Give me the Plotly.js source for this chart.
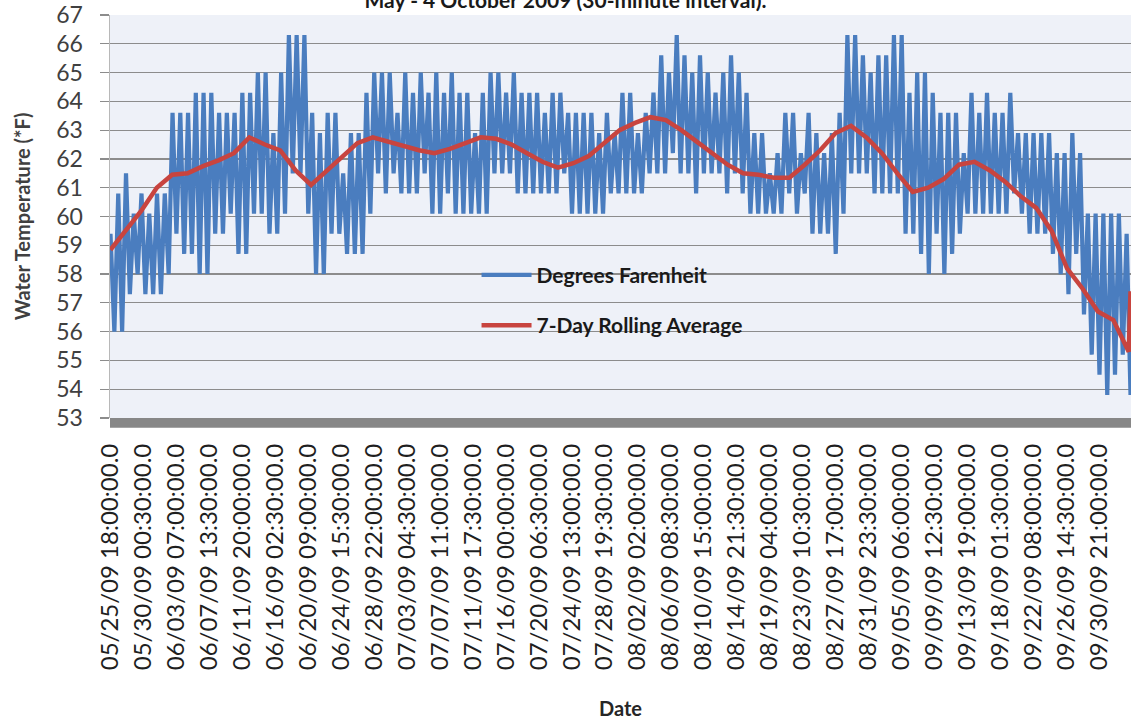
<!DOCTYPE html>
<html>
<head>
<meta charset="utf-8">
<script src="https://cdn.plot.ly/plotly-3.0.1.min.js"></script>
<style>
html,body{margin:0;padding:0;background:#fff;}
#chart{width:1131px;height:721px;}
</style>
</head>
<body>
<div id="chart"></div>
<script>
// ---- Data ----
// Half-hourly categories: 05/25/09 18:00 ... 10/04/09 23:30 (index 0 .. 6347)
const categoryCount = 6348;
const tickStep = 205;
const tickLabels = [
  "05/25/09 18:00:00.0","05/30/09 00:30:00.0","06/03/09 07:00:00.0","06/07/09 13:30:00.0",
  "06/11/09 20:00:00.0","06/16/09 02:30:00.0","06/20/09 09:00:00.0","06/24/09 15:30:00.0",
  "06/28/09 22:00:00.0","07/03/09 04:30:00.0","07/07/09 11:00:00.0","07/11/09 17:30:00.0",
  "07/16/09 00:00:00.0","07/20/09 06:30:00.0","07/24/09 13:00:00.0","07/28/09 19:30:00.0",
  "08/02/09 02:00:00.0","08/06/09 08:30:00.0","08/10/09 15:00:00.0","08/14/09 21:30:00.0",
  "08/19/09 04:00:00.0","08/23/09 10:30:00.0","08/27/09 17:00:00.0","08/31/09 23:30:00.0",
  "09/05/09 06:00:00.0","09/09/09 12:30:00.0","09/13/09 19:00:00.0","09/18/09 01:30:00.0",
  "09/22/09 08:00:00.0","09/26/09 14:30:00.0","09/30/09 21:00:00.0"
];

// Degrees Farenheit: first reading, then alternating daily lows / highs
const firstReading = 59.4;
const dailyLows = [
  56.0,56.0,57.3,58.0,57.3,57.3,57.3,58.0,59.4,58.7,58.7,58.0,58.0,59.4,59.4,60.1,58.7,58.7,60.1,60.1,
  59.4,59.4,60.1,61.5,61.5,60.1,58.0,58.0,59.4,59.4,58.7,58.7,58.7,
  60.1,61.5,60.8,61.5,60.8,60.8,60.8,61.5,60.1,60.1,60.8,60.1,60.1,60.1,60.1,60.1,61.5,61.5,61.5,60.8,
  60.8,60.8,60.8,60.8,60.8,61.5,60.1,60.1,60.1,60.1,60.1,60.8,60.8,
  60.8,60.8,60.8,61.5,61.5,61.5,62.2,61.5,61.5,60.8,61.5,61.5,61.5,60.8,61.5,60.8,60.1,60.1,60.1,60.1,
  60.1,60.8,60.1,60.8,59.4,59.4,59.4,58.7,60.1,61.5,61.5,61.5,60.8,
  60.8,60.8,60.8,59.4,59.4,58.7,58.0,59.4,58.0,58.7,59.4,60.1,60.1,60.1,60.1,60.1,60.1,60.8,60.1,59.4,
  59.4,59.4,58.7,58.0,57.3,58.7,56.6,55.2,54.5,53.8,54.5,55.2,53.8
];
const dailyHighs = [
  60.8,61.5,60.1,60.8,60.1,60.8,60.8,63.6,63.6,63.6,64.3,64.3,64.3,63.6,63.6,63.6,64.3,64.3,65.0,65.0,
  62.9,65.0,66.3,66.3,66.3,63.6,62.9,63.6,63.6,61.5,62.9,62.9,64.3,
  65.0,65.0,65.0,63.6,65.0,64.3,65.0,64.3,65.0,64.3,65.0,64.3,64.3,62.9,64.3,65.0,65.0,64.3,65.0,64.3,
  64.3,64.3,63.6,64.3,64.3,63.6,63.6,63.6,63.6,62.9,63.6,62.9,64.3,
  64.3,62.9,63.6,64.3,65.6,65.0,66.3,65.6,65.0,65.6,65.0,64.3,65.0,65.6,65.0,64.3,62.9,62.9,61.5,62.2,
  63.6,63.6,62.2,63.6,62.9,62.2,62.9,63.6,66.3,66.3,65.6,65.0,
  65.6,65.6,66.3,66.3,64.3,65.0,65.0,64.3,63.6,63.6,63.6,62.2,64.3,63.6,64.3,63.6,63.6,64.3,62.9,62.9,
  62.9,62.9,62.9,62.2,62.2,62.9,62.2,60.1,60.1,60.1,60.1,60.1,59.4
];

// 7-Day Rolling Average, read every second day (day 0, 2, 4, ...), plus last reading
const rollingAvg = [
  58.84,59.5,60.2,61.0,61.45,61.5,61.75,61.95,62.2,62.75,62.5,62.3,61.6,61.1,61.6,62.1,62.55,62.75,
  62.6,62.45,62.3,62.2,62.35,62.55,62.75,62.7,62.5,62.2,61.9,61.7,61.85,62.1,62.55,63.0,63.25,63.45,
  63.35,63.0,62.6,62.2,61.8,61.5,61.45,61.35,61.35,61.8,62.3,62.9,63.15,62.75,62.2,61.5,60.85,61.0,
  61.3,61.8,61.9,61.6,61.2,60.7,60.3,59.5,58.2,57.5,56.7,56.4,55.3
];
const rollingAvgLast = 57.4;

// ---- Build traces ----
const tempY = [firstReading];
for (let i = 0; i < dailyLows.length; i++) {
  tempY.push(dailyLows[i]);
  if (i < dailyHighs.length) tempY.push(dailyHighs[i]);
}
const lastIdx = categoryCount - 1;
const tempX = tempY.map((_, i) => i * lastIdx / (tempY.length - 1));

const avgX = rollingAvg.map((_, k) => k * 96);
avgX.push(lastIdx);
const avgY = rollingAvg.concat([rollingAvgLast]);

const tickVals = tickLabels.map((_, k) => k * tickStep);

const FONT = "Lato, 'Liberation Sans', sans-serif";

const traces = [
  {
    x: tempX, y: tempY, type: 'scatter', mode: 'lines',
    name: 'Degrees Farenheit', legendgroup: 'a',
    line: {color: '#4a7dbf', width: 4.2}
  },
  {
    x: avgX, y: avgY, type: 'scatter', mode: 'lines',
    name: '7-Day Rolling Average', legendgroup: 'b',
    line: {color: '#c8443f', width: 4.5}
  }
];

const layout = {
  width: 1131, height: 721,
  margin: {l: 110, r: 0, t: 15, b: 303, pad: 0},
  paper_bgcolor: '#ffffff',
  plot_bgcolor: '#eef1f8',
  font: {family: FONT, color: '#262626'},
  title: {
    text: 'May - 4 October 2009 (30-minute interval).',
    x: 0.5, xref: 'container', xanchor: 'center',
    y: 0.999, yref: 'container', yanchor: 'middle',
    font: {family: FONT, size: 21, weight: 'bold', color: '#1a1a1a'}
  },
  xaxis: {
    range: [-3, 6350],
    tickmode: 'array', tickvals: tickVals, ticktext: tickLabels,
    tickangle: -90,
    tickfont: {family: FONT, size: 24, color: '#1f1f1f'},
    ticks: '', showgrid: false, zeroline: false,
    showline: false,
    ticklabelstandoff: 20,
    automargin: false,
    title: {text: 'Date', standoff: 32, font: {family: FONT, size: 20, weight: 'bold', color: '#262626'}}
  },
  yaxis: {
    range: [53, 67], dtick: 1, tick0: 53,
    tickfont: {family: FONT, size: 23, color: '#404040'},
    ticks: 'outside', ticklen: 9, tickcolor: '#8c8c8c', tickwidth: 1.2,
    ticklabelstandoff: 12,
    showgrid: true, gridcolor: '#8c8c8c', gridwidth: 1.2,
    zeroline: false,
    showline: true, linecolor: '#b8b8b8', linewidth: 1.5,
    automargin: false,
    title: {text: 'Water Temperature (*F)', standoff: 20, font: {family: FONT, size: 20, weight: 'bold', color: '#404040'}}
  },
  showlegend: true,
  legend: {
    x: 0.359, xanchor: 'left', y: 0.405, yanchor: 'top',
    bgcolor: 'rgba(0,0,0,0)', borderwidth: 0,
    font: {family: FONT, size: 21, weight: 'bold', color: '#1a1a1a'},
    traceorder: 'grouped', tracegroupgap: 20,
    itemwidth: 50
  },
  shapes: [
    {type: 'rect', xref: 'paper', yref: 'paper', x0: 0, x1: 1, y0: -0.024, y1: 0,
     fillcolor: '#878787', line: {width: 0}, layer: 'above'}
  ]
};

Plotly.newPlot('chart', traces, layout, {displayModeBar: false, staticPlot: true});
</script>
</body>
</html>
